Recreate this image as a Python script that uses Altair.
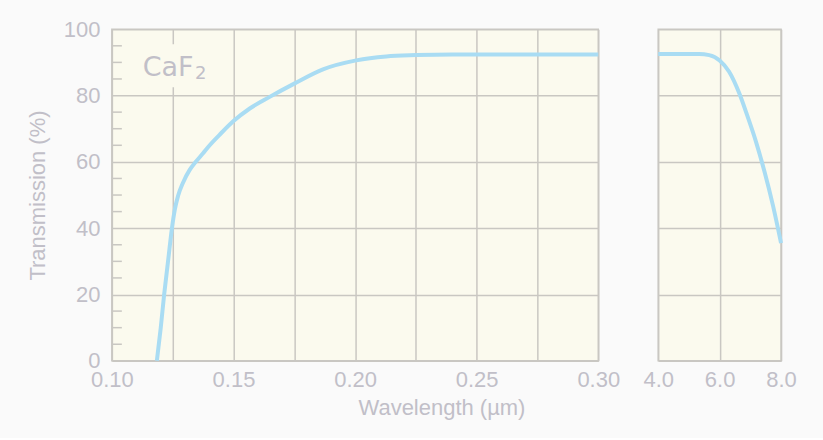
import altair as alt
import pandas as pd

# ---- data ----
uv_wavelength = [0.1185, 0.1201, 0.1215, 0.1231, 0.1247, 0.1259, 0.1272, 0.1293,
                 0.1320, 0.1345, 0.1375, 0.1396, 0.1450, 0.1500, 0.1567, 0.1649,
                 0.1750, 0.1868, 0.2005, 0.2128, 0.2250, 0.2400, 0.2500, 0.2750, 0.3000]
uv_transmission = [0, 10, 20, 30, 40, 45.7, 49.7, 53.8,
                   57.6, 60.0, 62.6, 64.5, 68.7, 72.3, 76.1, 79.6,
                   83.6, 87.9, 90.6, 91.8, 92.2, 92.4, 92.4, 92.4, 92.4]

ir_wavelength = [4.0, 4.7, 5.33, 5.66, 6.0, 6.31, 6.64, 6.91, 7.18, 7.46, 7.73, 8.0]
ir_transmission = [92.5, 92.5, 92.5, 92.2, 90.6, 87.2, 80.7, 73.7, 66.2, 57.1, 47.1, 35.5]

uv_grid_values = [0.1, 0.125, 0.15, 0.175, 0.2, 0.225, 0.25, 0.275, 0.3]
ir_tick_values = [4.0, 6.0, 8.0]
y_tick_values = [0, 20, 40, 60, 80, 100]
minor_tick_values = [5, 10, 15, 25, 30, 35, 45, 50, 55, 65, 70, 75, 85, 90, 95]

label_text = ["CaF"]
label_x = [0.1127]
label_y = [86.0]
sub_text = ["2"]
sub_x = [0.1342]
sub_y = [85.0]
label_box_x = [0.115]
label_box_x2 = [0.137]
label_box_y = [82.5]
label_box_y2 = [95.5]

# ---- styling ----
TEXT = "#c1bfc8"
GRID = "#c9c7c2"
CREAM = "#fbfaee"
LINE = "#a9dcf3"
FONT = "Liberation Sans"
LABEL_FONT = "DejaVu Sans"
FS = 22

uv = pd.DataFrame({"wl": uv_wavelength, "t": uv_transmission})
ir = pd.DataFrame({"wl": ir_wavelength, "t": ir_transmission})
minor = pd.DataFrame({"v": minor_tick_values})
lab = pd.DataFrame({"x": label_x, "y": label_y, "s": label_text})
sub = pd.DataFrame({"x": sub_x, "y": sub_y, "s": sub_text})
box = pd.DataFrame({"x": label_box_x, "x2": label_box_x2, "y": label_box_y, "y2": label_box_y2})

xs_uv = alt.Scale(domain=[0.1, 0.3], nice=False, zero=False)
ys = alt.Scale(domain=[0, 100], nice=False)

y_left = alt.Y("t:Q", scale=ys,
               axis=alt.Axis(values=y_tick_values, title="Transmission (%)", grid=True,
                             ticks=False, domain=False, labelPadding=12, titlePadding=14))
x_left = alt.X("wl:Q", scale=xs_uv,
               axis=alt.Axis(values=uv_grid_values, title="Wavelength (µm)", grid=True,
                             ticks=False, domain=False, labelPadding=9, titlePadding=7,
                             labelOverlap=False, labelFlush=False, titleX=330,
                             labelExpr="(round(datum.value*1000) % 50 == 0) ? format(datum.value, '.2f') : ''"))

line_uv = alt.Chart(uv).mark_line(color=LINE, strokeWidth=4, interpolate="monotone").encode(
    x=x_left, y=y_left)

box_mark = alt.Chart(box).mark_rect(color=CREAM).encode(
    x=alt.X("x:Q", scale=xs_uv), x2="x2:Q", y=alt.Y("y:Q", scale=ys), y2="y2:Q")

minor_mark = alt.Chart(minor).mark_rule(color=GRID, strokeWidth=1.5).encode(
    x=alt.value(0), x2=alt.value(10), y=alt.Y("v:Q", scale=ys))

lab_mark = alt.Chart(lab).mark_text(font=LABEL_FONT, fontSize=27, color=TEXT, align="left",
                                    baseline="alphabetic").encode(
    x=alt.X("x:Q", scale=xs_uv), y=alt.Y("y:Q", scale=ys), text="s:N")
sub_mark = alt.Chart(sub).mark_text(font=LABEL_FONT, fontSize=18, color=TEXT, align="left",
                                    baseline="alphabetic").encode(
    x=alt.X("x:Q", scale=xs_uv), y=alt.Y("y:Q", scale=ys), text="s:N")

left = alt.layer(line_uv, box_mark, minor_mark, lab_mark, sub_mark).properties(width=487, height=332)

right = alt.Chart(ir).mark_line(color=LINE, strokeWidth=4, interpolate="monotone").encode(
    x=alt.X("wl:Q", scale=alt.Scale(domain=[4, 8], nice=False, zero=False),
            axis=alt.Axis(values=ir_tick_values, format=".1f", title=None, grid=True,
                          ticks=False, domain=False, labelPadding=9, labelOverlap=False,
                          labelFlush=False)),
    y=alt.Y("t:Q", scale=ys,
            axis=alt.Axis(values=y_tick_values, title=None, labels=False, grid=True,
                          ticks=False, domain=False)),
).properties(width=123, height=332)

chart = alt.hconcat(left, right, spacing=60, bounds="flush").resolve_scale(
    x="independent").properties(
    padding={"left": 25, "top": 17, "right": 25, "bottom": 18},
    background="#fafafa",
).configure_view(
    fill=CREAM, stroke=GRID, strokeWidth=1.5
).configure_axis(
    labelFont=FONT, titleFont=FONT, labelFontSize=FS, titleFontSize=FS,
    labelColor=TEXT, titleColor=TEXT, titleFontWeight="normal",
    gridColor=GRID, gridWidth=1.5, gridOpacity=1
)

chart.save("out.html", embed_options={"renderer": "svg", "actions": False})
